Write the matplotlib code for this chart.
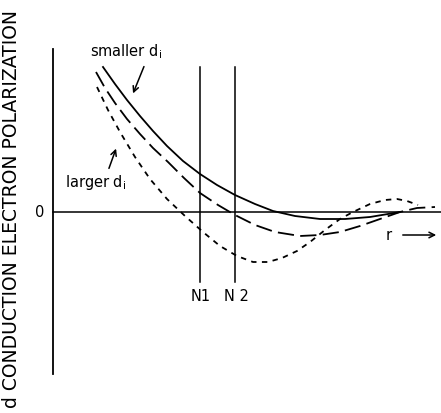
import matplotlib
matplotlib.use("Agg")
import matplotlib.pyplot as plt

# r (arbitrary units, origin at the vertical axis) vs polarization (0 = baseline)
r_small = [50, 62, 74, 87, 100, 114, 130, 147, 164, 182, 202, 220, 242, 267, 292, 317, 347]
p_small = [145, 128, 112, 96, 81, 66, 51, 38, 27, 17, 8, 1, -4, -7, -7, -5, 0]

r_large = [43, 52, 62, 74, 87, 100, 115, 131, 147, 165, 182, 202, 222, 247, 267, 287, 307,
           327, 347, 364, 382]
p_large = [140, 124, 109, 93, 78, 64, 50, 34, 19, 7, -3, -13, -20, -24, -23, -20, -14,
           -7, 0, 4, 5]

r_larger = [44, 55, 67, 82, 97, 114, 132, 150, 167, 184, 200, 215, 229, 244, 257, 272, 287,
            300, 317, 332, 344, 354, 365]
p_larger = [125, 102, 80, 55, 33, 13, -4, -20, -34, -44, -50, -50, -46, -39, -30, -18, -7,
            0, 8, 12, 13, 11, 7]

n_marks = [147, 182]
n_labels = ["N1", "N 2"]

fig = plt.figure(figsize=(4.41, 4.14), dpi=100)
ax = fig.add_axes([0, 0, 1, 1])
ax.set_xlim(-53, 388)
ax.set_ylim(-201, 213)
ax.axis("off")

lw = 1.3
# axes
ax.plot([0, 0], [-162, 163], color="black", lw=1.3)
ax.plot([0, 388], [0, 0], color="black", lw=1.1)
for xm, lab in zip(n_marks, n_labels):
    ax.plot([xm, xm], [145, -70], color="black", lw=1.1)
    ax.text(xm + 1, -84, lab, ha="center", va="center", fontsize=10.5)

ax.plot(r_small, p_small, color="black", lw=lw)
ax.plot(r_large, p_large, color="black", lw=lw, dashes=(9, 3.5))
ax.plot(r_larger, p_larger, color="black", lw=lw, dashes=(3, 3))

ax.text(-13, 0, "0", ha="center", va="center", fontsize=10.5)
ax.text(-41, 4, "d CONDUCTION ELECTRON POLARIZATION", rotation=90,
        ha="center", va="center", fontsize=13.5)

ax.text(37, 161, "smaller d$_\\mathregular{i}$", ha="left", va="center", fontsize=10.5)
ax.annotate("", xy=(79, 116), xytext=(92, 148),
            arrowprops=dict(arrowstyle="->", color="black", lw=1.1))
ax.text(12, 30, "larger d$_\\mathregular{i}$", ha="left", va="center", fontsize=10.5)
ax.annotate("", xy=(64, 66), xytext=(55, 41),
            arrowprops=dict(arrowstyle="->", color="black", lw=1.1))

ax.text(336, -23, "r", ha="center", va="center", fontsize=10.5)
ax.annotate("", xy=(386, -23), xytext=(347, -23),
            arrowprops=dict(arrowstyle="->", color="black", lw=1.1))

fig.savefig("out.png", dpi=100)
